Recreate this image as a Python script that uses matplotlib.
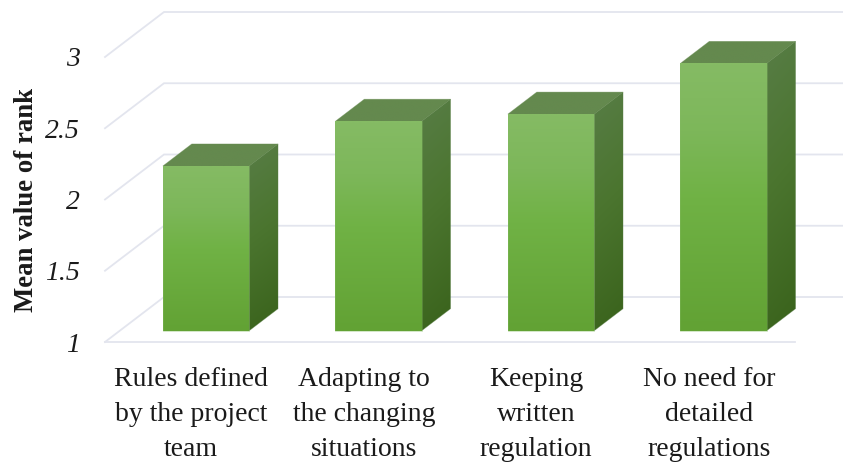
import numpy as np
import matplotlib
matplotlib.use("Agg")
import matplotlib.pyplot as plt
from matplotlib.patches import Polygon

categories = ["Rules defined\nby the project\nteam", "Adapting to\nthe changing\nsituations",
              "Keeping\nwritten\nregulation", "No need for\ndetailed\nregulations"]
values = [2.156, 2.47, 2.52, 2.876]
y_ticks = [1, 1.5, 2, 2.5, 3]
y_tick_labels = ["1", "1.5", "2", "2.5", "3"]
y_label = "Mean value of rank"

W, H = 843, 462
FONT = "Liberation Serif"
GRID = "#e3e5ee"
DX, DY = 59 / 172.5, 45 / 142.5   # full depth of the 3D box in data units
BAR_W = 0.5

fig = plt.figure(figsize=(W / 100, H / 100), dpi=100)
ax = fig.add_axes([105 / W, (H - 342) / H, 690 / W, 285 / H])
ax.set_xlim(0, len(values))
ax.set_ylim(1, 3)
for s in ax.spines.values():
    s.set_visible(False)

# walls / grid
for v in y_ticks:
    ax.plot([0, DX, len(values) + DX], [v, v + DY, v + DY], color=GRID, lw=1.3,
            clip_on=False, zorder=1, solid_joinstyle="miter")
ax.plot([0, len(values)], [1, 1], color=GRID, lw=1.3, clip_on=False, zorder=1)


def shade(poly_pts, stops, diag, z):
    xs = [p[0] for p in poly_pts]
    ys = [p[1] for p in poly_pts]
    n = 64
    yy, xx = np.mgrid[0:1:n * 1j, 0:1:n * 1j]
    t = np.clip(yy + diag * (xx - 0.5), 0, 1)
    pos = np.array([s[0] for s in stops])
    cols = np.array([matplotlib.colors.to_rgb(s[1]) for s in stops])
    img = np.stack([np.interp(t, pos, cols[:, i]) for i in range(3)], axis=-1)
    im = ax.imshow(img, extent=(min(xs), max(xs), min(ys), max(ys)), origin="upper",
                   aspect="auto", zorder=z, interpolation="bilinear")
    clip = Polygon(poly_pts, closed=True, transform=ax.transData)
    im.set_clip_path(clip)
    im.set_clip_box(fig.bbox)
    ax.add_patch(Polygon(poly_pts, closed=True, fill=False, edgecolor=stops[0][1], lw=0.5,
                         alpha=0.5, clip_on=False, zorder=z + 0.1))


FRONT = [(0, "#85bb64"), (0.25, "#7db75a"), (0.5, "#70b245"), (1, "#62a234")]
SIDE = [(0, "#567c43"), (0.45, "#4b752f"), (1, "#3b641d")]
TOP = [(0, "#64894e"), (1, "#64894e")]

for i, v in enumerate(values):
    x0 = i + 0.5 - BAR_W / 2 + 0.25 * DX
    x1 = x0 + BAR_W
    y0 = 1 + 0.25 * DY
    top = y0 + (v - 1)
    ddx, ddy = 0.49 * DX, 0.49 * DY
    shade([(x1, y0), (x1 + ddx, y0 + ddy), (x1 + ddx, top + ddy), (x1, top)], SIDE, 0.12, 3)
    shade([(x0, top), (x1, top), (x1 + ddx, top + ddy), (x0 + ddx, top + ddy)], TOP, 0, 3)
    shade([(x0, y0), (x1, y0), (x1, top), (x0, top)], FRONT, 0, 4)

ax.set_xlim(0, len(values))
ax.set_ylim(1, 3)
ax.set_xticks(np.arange(len(values)) + 0.5)
ax.set_xticklabels(categories, fontfamily=FONT, fontsize=20, color="#1a1a1a", linespacing=1.52)
ax.set_yticks(y_ticks)
ax.set_yticklabels(y_tick_labels, fontfamily=FONT, fontsize=20, style="italic", color="#1a1a1a")
ax.tick_params(axis="x", length=0, pad=18)
ax.tick_params(axis="y", length=0, pad=18)
fig.text(27 / W, 1 - 200 / H, y_label, rotation=90, ha="center", va="center",
         fontfamily=FONT, fontsize=19.3, fontweight="bold", color="#1a1a1a")

fig.savefig("out.png", dpi=100)
